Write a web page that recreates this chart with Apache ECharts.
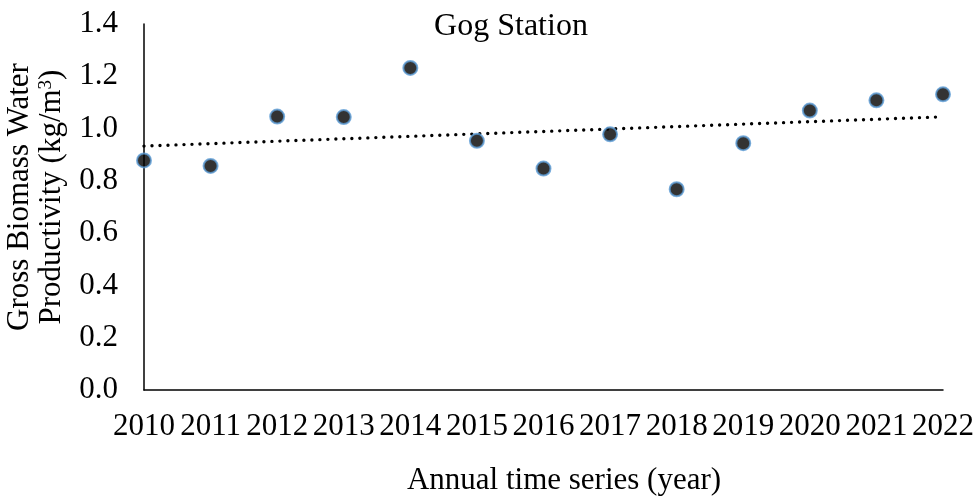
<!DOCTYPE html>
<html>
<head>
<meta charset="utf-8">
<script src="https://cdn.jsdelivr.net/npm/echarts@6/dist/echarts.min.js"></script>
<style>
html, body { margin: 0; padding: 0; background: #fff; }
#chart { width: 977px; height: 499px; }
</style>
</head>
<body>
<div id="chart"></div>
<script>
// annual values
var years = ['2010', '2011', '2012', '2013', '2014', '2015', '2016', '2017', '2018', '2019', '2020', '2021', '2022'];
var gbwp = [0.878, 0.857, 1.046, 1.044, 1.232, 0.953, 0.847, 0.978, 0.768, 0.944, 1.069, 1.108, 1.131];
// linear trend end values (2010, 2022)
var trendEnds = [0.933, 1.045];
var yTicks = [0, 0.2, 0.4, 0.6, 0.8, 1.0, 1.2, 1.4];

var trend = years.map(function (y, i) {
    if (i === 0) return trendEnds[0];
    if (i === years.length - 1) return trendEnds[1];
    return null;
});

var font = 'Liberation Serif';
var chart = echarts.init(document.getElementById('chart'));
chart.setOption({
    animation: false,
    title: {
        text: 'Gog Station',
        left: 506,
        top: 6,
        textAlign: 'center',
        textStyle: { fontFamily: font, fontSize: 32, fontWeight: 'normal', color: '#000' }
    },
    grid: { left: 144, right: 34, top: 24, bottom: 109, outerBoundsMode: 'none' },
    xAxis: {
        type: 'category',
        data: years,
        boundaryGap: false,
        name: 'Annual time series (year)',
        nameLocation: 'middle',
        nameGap: 75,
        nameTextStyle: { fontFamily: font, fontSize: 31, color: '#000', padding: [0, 0, 0, 41] },
        axisLine: { lineStyle: { color: '#000', width: 1.5 } },
        axisTick: { show: false },
        axisLabel: { fontFamily: font, fontSize: 31, color: '#000', margin: 21, interval: 0 },
        splitLine: { show: false }
    },
    yAxis: {
        type: 'value',
        min: yTicks[0],
        max: yTicks[yTicks.length - 1],
        interval: 0.2,
        name: 'Gross Biomass Water\nProductivity (kg/m{sup|3})',
        nameLocation: 'middle',
        nameRotate: 90,
        nameGap: 69,
        nameTextStyle: {
            fontFamily: font, fontSize: 31, color: '#000', lineHeight: 32, padding: [0, 0, 0, 20],
            rich: { sup: { fontFamily: font, fontSize: 19, verticalAlign: 'top', padding: [0, 0, 14, 0], color: '#000' } }
        },
        axisLine: { show: true, lineStyle: { color: '#000', width: 1.5 } },
        axisTick: { show: false },
        axisLabel: {
            fontFamily: font, fontSize: 31, color: '#000', margin: 26,
            formatter: function (v) { return v.toFixed(1); }
        },
        splitLine: { show: false }
    },
    series: [
        {
            name: 'GBWP',
            type: 'scatter',
            data: gbwp,
            symbol: 'circle',
            symbolSize: 14,
            itemStyle: { color: '#000', borderColor: '#5B9BD5', borderWidth: 2 },
            z: 3
        },
        {
            name: 'Linear trend',
            type: 'line',
            data: trend,
            connectNulls: true,
            symbol: 'none',
            lineStyle: { color: '#000', width: 3.4, type: [0, 8], cap: 'round' },
            z: 2
        }
    ]
});
</script>
</body>
</html>
